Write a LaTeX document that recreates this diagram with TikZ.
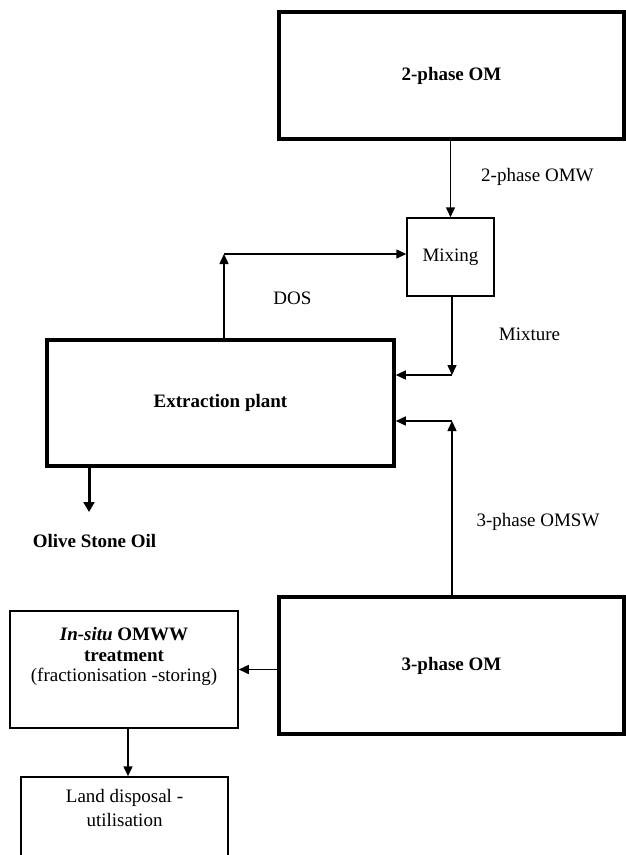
\documentclass[tikz,border=0pt]{standalone}
\usepackage{fontspec}
\setmainfont{Liberation Serif}
\usetikzlibrary{arrows.meta}

\tikzset{
  box/.style={draw, line width=1.5pt, inner sep=0pt, align=center},
  bigbox/.style={box, line width=3.6pt, font=\fontsize{19}{20}\selectfont\bfseries},
  flow/.style={line width=1.5pt, -{Triangle[length=10pt,width=9pt]}},
  tag/.style={inner sep=0pt, align=center}
}

\begin{document}
\begin{tikzpicture}[x=1pt, y=-1pt, line join=miter, font=\fontsize{19}{20}\selectfont]
  \useasboundingbox (0,0) rectangle (625,855);

  % process units
  \node[bigbox, minimum width=345pt, minimum height=127pt] (twoOM) at (451.5,75.5) {2-phase OM};
  \node[box, minimum width=87pt, minimum height=78pt] (mix) at (450.5,257) {Mixing};
  \node[bigbox, minimum width=347pt, minimum height=126pt] (ext) at (220.5,403) {Extraction plant};
  \node[bigbox, minimum width=345pt, minimum height=137pt] (threeOM) at (451.5,665.5) {3-phase OM};
  \node[box, minimum width=228pt, minimum height=117pt,
        label={[tag, anchor=north, yshift=-17pt, font=\fontsize{19}{20.5}\selectfont]north:{\bfseries\itshape In-situ}\bfseries{} OMWW\\\bfseries treatment\\(fractionisation -storing)}]
        (insitu) at (124,669.5) {};
  \node[box, minimum width=207pt, minimum height=96pt,
        label={[tag, anchor=north, yshift=-13pt]north:Land disposal -\\[4pt]utilisation}]
        (land) at (124.5,825) {};

  % bends
  \coordinate (dosc) at (224,254);
  \coordinate (mixc) at (452,375);
  \coordinate (omswc) at (452,421);
  \coordinate (oilc) at (89,512);

  % streams
  \draw[flow] (mix.north |- twoOM.south) -- (mix.north);
  \draw[flow] (ext.north -| dosc) -- (dosc);
  \draw[flow] (dosc) -- (mix.west |- dosc);
  \draw[flow] (mix.south -| mixc) -- (mixc);
  \draw[flow] (mixc) -- (ext.east |- mixc);
  \draw[flow] (threeOM.north -| omswc) -- (omswc);
  \draw[flow] (omswc) -- (ext.east |- omswc);
  \draw[flow] (threeOM.west |- insitu.east) -- (insitu.east);
  \draw[flow] (insitu.south -| 128,0) -- (land.north -| 128,0);
  \draw[line width=3pt, -{Triangle[length=10pt,width=11pt]}] (ext.south -| oilc) -- (oilc);

  % stream labels
  \node[tag, anchor=west] (omw) at (481,177) {2-phase OMW};
  \node[tag] (dos) at (292.5,298) {DOS};
  \node[tag] (mixture) at (529.5,334) {Mixture};
  \node[tag] (omsw) at (538,522) {3-phase OMSW};
  \node[tag, font=\fontsize{19}{20}\selectfont\bfseries] (oil) at (94.5,541) {Olive Stone Oil};
\end{tikzpicture}
\end{document}
